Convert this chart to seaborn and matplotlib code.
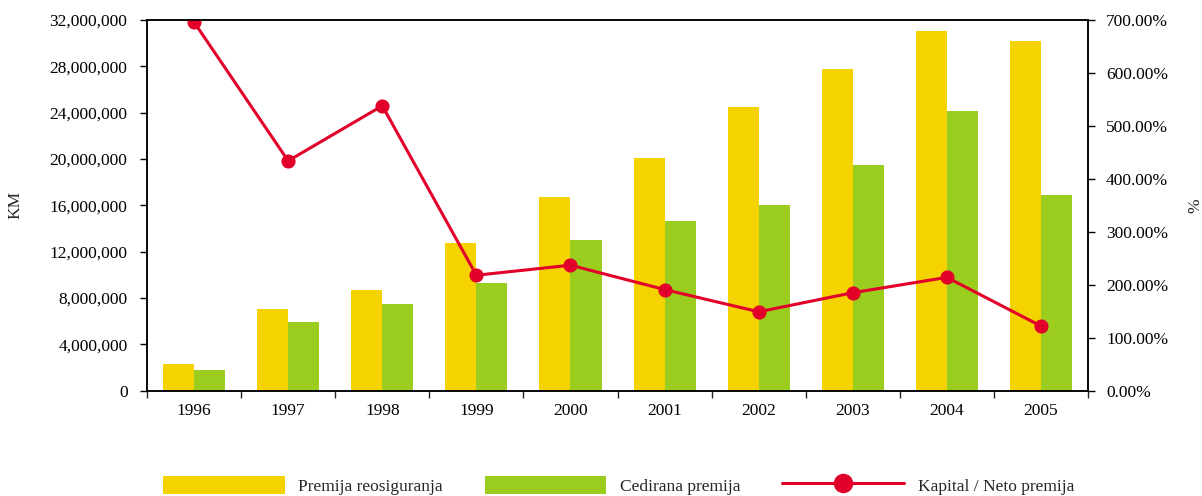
import numpy as np
import pandas as pd
import seaborn as sns
import matplotlib.pyplot as plt
from matplotlib.lines import Line2D
from matplotlib.patches import Patch
from matplotlib.ticker import FuncFormatter, MultipleLocator

# data
years = ['1996', '1997', '1998', '1999', '2000', '2001', '2002', '2003', '2004', '2005']
premija = [2.30e6, 7.03e6, 8.69e6, 12.72e6, 16.72e6, 20.09e6, 24.49e6, 27.77e6, 31.05e6, 30.19e6]
cedirana = [1.79e6, 5.93e6, 7.48e6, 9.30e6, 13.01e6, 14.65e6, 16.03e6, 19.48e6, 24.14e6, 16.89e6]
kapital = [696, 434, 538, 218, 237, 191, 149, 185, 214, 122]
series = ['Premija reosiguranja', 'Cedirana premija']
line_label = 'Kapital / Neto premija'

yellow = '#F5D300'
green = '#9BCD1E'
red = '#E2002A'

sns.set_style('ticks')
plt.rcParams['font.family'] = ['Liberation Serif', 'DejaVu Serif']
plt.rcParams['axes.edgecolor'] = 'black'
plt.rcParams['axes.linewidth'] = 1.1

df = pd.DataFrame({
    'year': years * 2,
    'serija': [series[0]] * len(years) + [series[1]] * len(years),
    'km': premija + cedirana,
})

fs = 12.5

fig = plt.figure(figsize=(12.02, 4.96), dpi=100)
ax = fig.add_axes([0.1223, 0.2123, 0.7829, 0.7474])
sns.barplot(data=df, x='year', y='km', hue='serija', order=years, hue_order=series,
            palette=[yellow, green], width=0.66, saturation=1, linewidth=0,
            ax=ax, legend=False)

ax2 = ax.twinx()
sns.pointplot(x=years, y=kapital, order=years, color=red, markersize=8.5, linewidth=2.2, ax=ax2)

# left axis
ax.set_ylim(0, 32e6)
ax.yaxis.set_major_locator(MultipleLocator(4e6))
ax.yaxis.set_major_formatter(FuncFormatter(lambda v, p: f'{v:,.0f}'))
ax.tick_params(axis='y', direction='out', length=5, width=1, pad=9, labelsize=fs, colors='black')
ax.set_ylabel('KM', fontsize=fs)
ax.yaxis.set_label_coords(-0.131, 0.5)

# x axis: labels at centers, ticks between groups
ax.set_xlim(-0.5, len(years) - 0.5)
ax.set_xticks(range(len(years)))
ax.set_xticklabels(years)
ax.set_xticks(np.arange(-0.5, len(years)), minor=True)
ax.tick_params(axis='x', which='major', length=0, pad=8.5, labelsize=fs, colors='black')
ax.tick_params(axis='x', which='minor', direction='out', length=5, width=1)
ax.set_xlabel('')

# right axis
ax2.set_ylim(0, 700)
ax2.yaxis.set_major_locator(MultipleLocator(100))
ax2.yaxis.set_major_formatter(FuncFormatter(lambda v, p: f'{v:.2f}%'))
ax2.tick_params(axis='y', direction='out', length=5, width=1, pad=8, labelsize=fs, colors='black')
ax2.set_ylabel('%', fontsize=fs)
ax2.yaxis.set_label_coords(1.106, 0.5)

handles = [
    Patch(facecolor=yellow, edgecolor='none'),
    Patch(facecolor=green, edgecolor='none'),
    Line2D([], [], color=red, lw=2.2, marker='o', markersize=13),
]
fig.legend(handles, series + [line_label], loc='center', bbox_to_anchor=(0.5146, 0.022),
           ncol=3, frameon=False, fontsize=fs, handlelength=7.0, handleheight=1.25,
           handletextpad=0.8, columnspacing=2.4)

fig.savefig('out.png', dpi=100)
